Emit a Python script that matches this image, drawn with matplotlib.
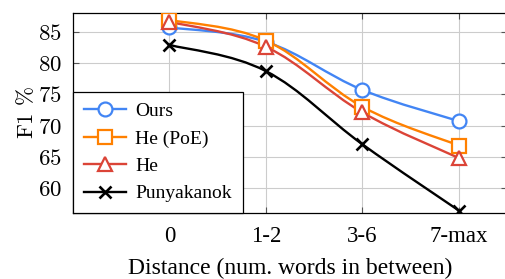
import numpy as np
import matplotlib.pyplot as plt
from matplotlib.path import Path
from matplotlib.patches import PathPatch
from matplotlib.lines import Line2D

# data
categories = ["0", "1-2", "3-6", "7-max"]
yticks = [60, 65, 70, 75, 80, 85]
ours = [85.7, 83.4, 75.7, 70.7]
he_poe = [86.9, 83.6, 73.0, 66.8]
he = [86.6, 82.6, 72.1, 64.8]
punyakanok = [82.9, 78.7, 67.0, 56.4]

series = [
    ("Ours", ours, "#4285f4", "o"),
    ("He (PoE)", he_poe, "#ff8000", "s"),
    ("He", he, "#db4437", "^"),
    ("Punyakanok", punyakanok, "black", "x"),
]

plt.rcParams["font.family"] = "Liberation Serif"
plt.rcParams["mathtext.fontset"] = "cm"

fig = plt.figure(figsize=(5.05, 2.79), dpi=100)
ax = fig.add_axes([73 / 505, 66 / 279, 434 / 505, 200 / 279])


def smooth_path(x, y, k=0.18):
    # bezier through the points, like pgfplots "smooth"
    pts = np.column_stack([x, y]).astype(float)
    n = len(pts)
    verts = [pts[0]]
    codes = [Path.MOVETO]
    for i in range(n - 1):
        p0 = pts[max(i - 1, 0)]
        p1 = pts[i]
        p2 = pts[i + 1]
        p3 = pts[min(i + 2, n - 1)]
        c1 = p1 + k * (p2 - p0)
        c2 = p2 - k * (p3 - p1)
        verts += [c1, c2, p2]
        codes += [Path.CURVE4] * 3
    return Path(verts, codes)


xs = np.arange(len(categories))
handles = []
for name, vals, color, mk in series:
    patch = PathPatch(smooth_path(xs, vals), facecolor="none", edgecolor=color,
                      lw=1.7, zorder=3)
    ax.add_patch(patch)
    mew = 1.9 if mk == "x" else 1.6
    ms = 9 if mk == "x" else 10
    ax.plot(xs, vals, linestyle="none", marker=mk, markersize=ms,
            markerfacecolor="white" if mk != "x" else color,
            markeredgecolor=color, markeredgewidth=mew, zorder=4)
    handles.append(Line2D([], [], color=color, lw=1.7, marker=mk, markersize=ms,
                          markerfacecolor="white" if mk != "x" else color,
                          markeredgecolor=color, markeredgewidth=mew, label=name))

ax.set_xlim(-1, 3.5)
ax.set_ylim(56, 88)
ax.set_xticks(xs)
ax.set_xticklabels(categories, fontsize=16.5)
ax.set_yticks(yticks)
ax.set_yticklabels([f"${v}$" for v in yticks], fontsize=16.5)
ax.grid(True, color="#cccccc", linewidth=0.8, zorder=0)
ax.set_axisbelow(True)
ax.tick_params(direction="in", length=4, width=0.8, color="#555555",
               top=True, right=True)
ax.tick_params(axis="x", pad=9)
ax.tick_params(axis="y", pad=8)
for s in ax.spines.values():
    s.set_linewidth(0.9)

ax.set_ylabel(r"$\mathrm{F1}\ \%$", fontsize=16.5, labelpad=0)
ax.set_xlabel("Distance (num. words in between)", fontsize=17, labelpad=8)

leg = ax.legend(handles=handles, loc="lower left", fontsize=14, frameon=True,
                fancybox=False, edgecolor="black", framealpha=1,
                handlelength=2.2, borderaxespad=0, labelspacing=0.5,
                borderpad=0.55, handletextpad=0.45)
leg.get_frame().set_linewidth(0.9)
leg.set_zorder(5)

fig.savefig("out.png", dpi=100)
